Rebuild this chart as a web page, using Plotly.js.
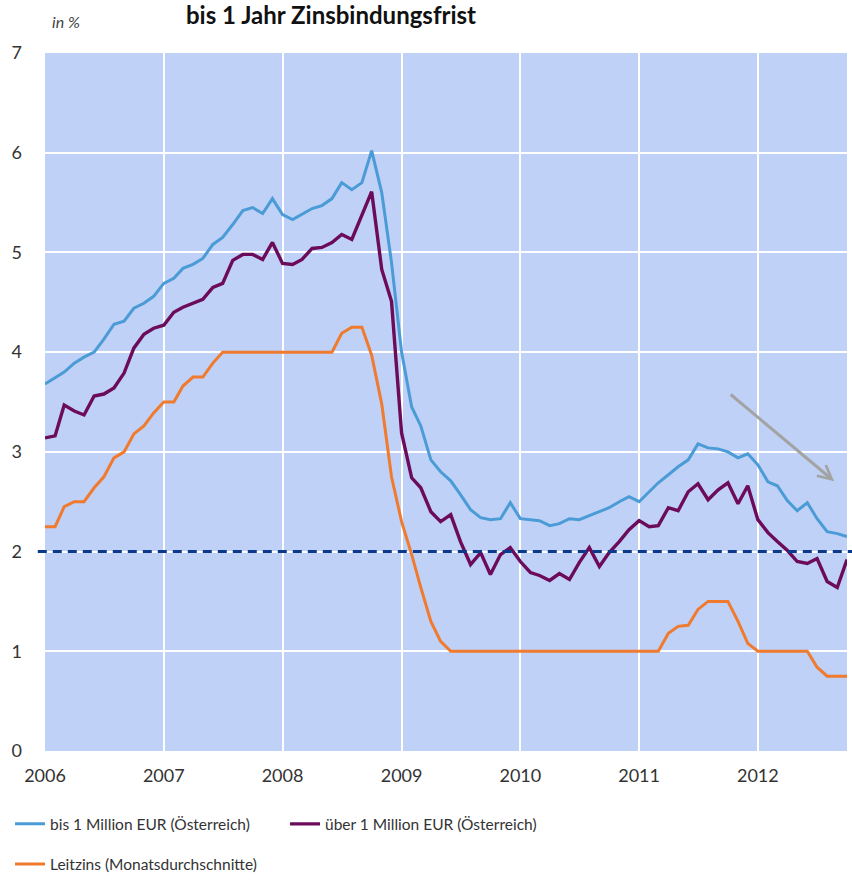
<!DOCTYPE html>
<html>
<head>
<meta charset="utf-8">
<script src="https://cdn.plot.ly/plotly-3.0.1.min.js"></script>
<style>html,body{margin:0;padding:0;background:#fff;}#chart{width:852px;height:880px;}</style>
</head>
<body>
<div id="chart"></div>
<script>
// Monthly data, Jan 2006 – Oct 2012 (82 months)
var startYear = 2006;
var nMonths = 82;
var months = [];
for (var i = 0; i < nMonths; i++) {
  var y = startYear + Math.floor(i / 12);
  var m = (i % 12) + 1;
  months.push(y + '-' + (m < 10 ? '0' + m : m) + '-01');
}

var bis1Mio = [
  3.68, 3.74, 3.80, 3.89, 3.95, 4.00, 4.13, 4.28, 4.31, 4.44, 4.49, 4.56,
  4.69, 4.74, 4.84, 4.88, 4.94, 5.08, 5.15, 5.28, 5.42, 5.45, 5.39, 5.54,
  5.38, 5.33, 5.38, 5.44, 5.47, 5.54, 5.70, 5.63, 5.70, 6.02, 5.60, 4.90,
  4.00, 3.45, 3.26, 2.92, 2.80, 2.71, 2.57, 2.42, 2.34, 2.32, 2.33, 2.49,
  2.33, 2.32, 2.31, 2.26, 2.28, 2.33, 2.32, 2.36, 2.40, 2.44, 2.50, 2.55,
  2.50, 2.60, 2.69, 2.77, 2.85, 2.92, 3.08, 3.04, 3.03, 3.00, 2.94, 2.98,
  2.87, 2.70, 2.66, 2.51, 2.41, 2.49, 2.33, 2.20, 2.18, 2.15
];
var ueber1Mio = [
  3.14, 3.16, 3.47, 3.41, 3.37, 3.56, 3.58, 3.64, 3.79, 4.04, 4.18, 4.24,
  4.27, 4.40, 4.45, 4.49, 4.53, 4.65, 4.69, 4.92, 4.98, 4.98, 4.93, 5.10,
  4.89, 4.88, 4.93, 5.04, 5.05, 5.10, 5.18, 5.13, 5.38, 5.61, 4.83, 4.51,
  3.19, 2.74, 2.64, 2.40, 2.30, 2.37, 2.10, 1.87, 1.99, 1.77, 1.97, 2.04,
  1.90, 1.79, 1.76, 1.71, 1.78, 1.72, 1.89, 2.04, 1.85, 1.99, 2.10, 2.22,
  2.31, 2.25, 2.26, 2.44, 2.41, 2.60, 2.68, 2.52, 2.62, 2.69, 2.48, 2.66,
  2.32, 2.19, 2.10, 2.01, 1.90, 1.88, 1.93, 1.70, 1.64, 1.92
];
var leitzins = [
  2.25, 2.25, 2.45, 2.50, 2.50, 2.64, 2.75, 2.94, 3.00, 3.18, 3.26, 3.39,
  3.50, 3.50, 3.66, 3.75, 3.75, 3.89, 4.00, 4.00, 4.00, 4.00, 4.00, 4.00,
  4.00, 4.00, 4.00, 4.00, 4.00, 4.00, 4.19, 4.25, 4.25, 3.97, 3.48, 2.75,
  2.30, 1.97, 1.64, 1.30, 1.10, 1.00, 1.00, 1.00, 1.00, 1.00, 1.00, 1.00,
  1.00, 1.00, 1.00, 1.00, 1.00, 1.00, 1.00, 1.00, 1.00, 1.00, 1.00, 1.00,
  1.00, 1.00, 1.00, 1.18, 1.25, 1.26, 1.42, 1.50, 1.50, 1.50, 1.30, 1.08,
  1.00, 1.00, 1.00, 1.00, 1.00, 1.00, 0.84, 0.75, 0.75, 0.75
];
var threshold = 2;
var yTicks = [0, 1, 2, 3, 4, 5, 6, 7];

var names = [
  'bis 1 Million EUR (Österreich)',
  'über 1 Million EUR (Österreich)',
  'Leitzins (Monatsdurchschnitte)'
];
var colors = ['#4a9bd6', '#6d0b5b', '#f07a2e'];
var FONT = 'Lato, "Open Sans", sans-serif';

var traces = [
  {x: months, y: bis1Mio, name: names[0], type: 'scatter', mode: 'lines',
   line: {color: colors[0], width: 3}, legend: 'legend'},
  {x: months, y: ueber1Mio, name: names[1], type: 'scatter', mode: 'lines',
   line: {color: colors[1], width: 3.4}, legend: 'legend'},
  {x: months, y: leitzins, name: names[2], type: 'scatter', mode: 'lines',
   line: {color: colors[2], width: 3}, legend: 'legend2'}
];

var layout = {
  width: 852, height: 880,
  margin: {l: 45, r: 5, t: 53, b: 129, pad: 0, autoexpand: false},
  paper_bgcolor: '#ffffff',
  plot_bgcolor: '#bfd1f6',
  font: {family: FONT, color: '#333333', size: 16},
  showlegend: true,
  xaxis: {
    type: 'date',
    range: ['2006-01-01', '2012-10-01'],
    tick0: '2006-01-01', dtick: 'M12', tickformat: '%Y',
    showgrid: true, gridcolor: '#ffffff', gridwidth: 2,
    zeroline: false, showline: false, ticks: '',
    ticklabelstandoff: 12,
    tickfont: {family: FONT, size: 18, color: '#333333'},
    automargin: false,
    fixedrange: true
  },
  yaxis: {
    range: [0, 7],
    tickvals: yTicks,
    showgrid: true, gridcolor: '#ffffff', gridwidth: 2,
    zeroline: false, showline: false, ticks: '',
    ticklabelstandoff: 22,
    tickfont: {family: FONT, size: 18, color: '#333333'},
    automargin: false,
    fixedrange: true
  },
  legend: {
    orientation: 'h', x: -0.0436, xanchor: 'left', y: -0.105, yanchor: 'middle',
    entrywidth: 230, entrywidthmode: 'pixels',
    bgcolor: 'rgba(0,0,0,0)', borderwidth: 0,
    font: {family: FONT, size: 15.5, color: '#333333'},
    itemwidth: 30
  },
  legend2: {
    orientation: 'h', x: -0.0436, xanchor: 'left', y: -0.1625, yanchor: 'middle',
    bgcolor: 'rgba(0,0,0,0)', borderwidth: 0,
    font: {family: FONT, size: 15.5, color: '#333333'},
    itemwidth: 30
  },
  shapes: [
    {type: 'line', xref: 'paper', yref: 'y', x0: -0.009, x1: 1.01, y0: threshold, y1: threshold,
     line: {color: '#0b3a8c', width: 3, dash: '9px,6px'}, layer: 'above'}
  ],
  annotations: [
    {text: '<b>bis 1 Jahr Zinsbindungsfrist</b>', xref: 'paper', yref: 'paper',
     x: 0.357, y: 1.0545, xanchor: 'center', yanchor: 'middle', showarrow: false,
     font: {family: FONT, size: 24, color: '#111111'}},
    {text: '<i>in %</i>', xref: 'paper', yref: 'paper',
     x: 0.026, y: 1.045, xanchor: 'center', yanchor: 'middle', showarrow: false,
     font: {family: FONT, size: 16, color: '#444444'}},
    {text: '', xref: 'paper', yref: 'paper', x: 0.984, y: 0.3865,
     showarrow: true, ax: -105, ay: -88, axref: 'pixel', ayref: 'pixel',
     arrowhead: 5, arrowsize: 0.9, arrowwidth: 3, arrowcolor: '#a3a3a3'}
  ]
};

Plotly.newPlot('chart', traces, layout, {displayModeBar: false, staticPlot: true});
</script>
</body>
</html>
